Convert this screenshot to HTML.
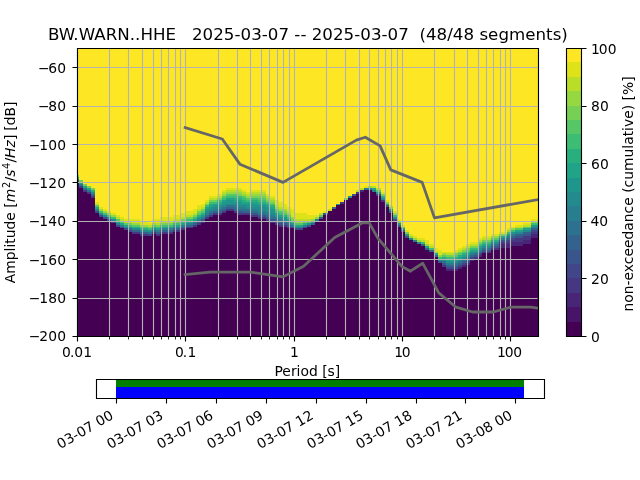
<!DOCTYPE html>
<html lang="en"><head><meta charset="utf-8"><title>PPSD BW.WARN..HHE</title>
<style>html,body{margin:0;padding:0;background:#fff;overflow:hidden}svg{display:block}text{font-family:'DejaVu Sans','Liberation Sans',sans-serif;font-size:13.889px;fill:#000}.t{font-size:16.667px;white-space:pre}.g{stroke:#b3b3b3;stroke-width:1.111;fill:none}.s{stroke:#000;stroke-width:1.111;fill:none}.m{stroke:#000;stroke-width:.833;fill:none}.n{stroke:#666;stroke-width:2.778;fill:none;stroke-linejoin:round;stroke-linecap:square}</style></head><body>
<svg width="640" height="480" viewBox="0 0 640 480">
<rect width="640" height="480" fill="#fff"/>
<g shape-rendering="crispEdges">
<rect x="77" y="48" width="461" height="288" fill="#fde725"/>
<path fill="#440154" d="M77 182h2v154h-2zM79 188h4v148h-4zM364 190h8v146h-8zM83 192h4v144h-4zM360 192h4v144h-4zM372 192h4v144h-4zM87 194h4v142h-4zM356 194h4v142h-4zM352 196h4v140h-4zM376 196h5v140h-5zM91 198h4v138h-4zM348 198h4v138h-4zM344 200h4v136h-4zM381 202h4v134h-4zM340 204h4v132h-4zM336 205h4v131h-4zM385 207h4v129h-4zM332 209h4v127h-4zM226 211h8v125h-8zM328 211h4v125h-4zM95 213h4v123h-4zM222 213h4v123h-4zM234 213h4v123h-4zM389 213h4v123h-4zM213 215h9v121h-9zM238 215h12v121h-12zM323 215h5v121h-5zM99 217h4v119h-4zM209 217h4v119h-4zM250 217h8v119h-8zM103 219h4v117h-4zM205 219h4v117h-4zM258 219h8v117h-8zM319 219h4v117h-4zM107 221h4v115h-4zM266 221h4v115h-4zM315 221h4v115h-4zM393 221h4v115h-4zM111 223h5v113h-5zM201 223h4v113h-4zM270 223h5v113h-5zM197 225h4v111h-4zM275 225h4v111h-4zM311 225h4v111h-4zM116 227h4v109h-4zM193 227h4v109h-4zM279 227h8v109h-8zM307 227h4v109h-4zM397 227h4v109h-4zM120 228h4v108h-4zM185 228h8v108h-8zM287 228h8v108h-8zM303 228h4v108h-4zM124 230h4v106h-4zM181 230h4v106h-4zM295 230h8v106h-8zM128 232h4v104h-4zM173 232h8v104h-8zM401 232h4v104h-4zM132 234h8v102h-8zM152 234h4v102h-4zM160 234h13v102h-13zM140 236h12v100h-12zM156 236h4v100h-4zM405 238h4v98h-4zM531 238h7v98h-7zM409 240h4v96h-4zM413 242h4v94h-4zM417 244h4v92h-4zM523 244h8v92h-8zM421 246h4v90h-4zM511 246h12v90h-12zM499 248h12v88h-12zM425 250h4v86h-4zM491 250h8v86h-8zM429 252h5v84h-5zM482 253h9v83h-9zM434 257h4v79h-4zM478 257h4v79h-4zM474 259h4v77h-4zM470 261h4v75h-4zM438 263h4v73h-4zM466 265h4v71h-4zM442 267h4v69h-4zM462 267h4v69h-4zM458 269h4v67h-4zM446 271h12v65h-12z"/>
<path fill="#482576" d="M360 190h4v2h-4zM531 234h7v4h-7zM523 240h8v4h-8zM511 242h12v4h-12zM499 244h12v4h-12zM478 255h4v2h-4zM470 259h4v2h-4zM466 263h4v2h-4zM462 265h4v2h-4zM458 267h4v2h-4zM446 269h12v2h-12z"/>
<path fill="#453781" d="M77 180h2v2h-2zM79 186h4v2h-4zM83 190h4v2h-4zM87 192h4v2h-4zM356 192h4v2h-4zM376 194h5v2h-5zM91 196h4v2h-4zM381 200h4v2h-4zM340 202h4v2h-4zM226 209h8v2h-8zM222 211h4v2h-4zM234 211h4v2h-4zM213 213h9v2h-9zM238 213h12v2h-12zM209 215h4v2h-4zM250 215h8v2h-8zM205 217h4v2h-4zM258 217h8v2h-8zM266 219h4v2h-4zM201 221h4v2h-4zM270 221h5v2h-5zM197 223h4v2h-4zM275 223h4v2h-4zM193 225h4v2h-4zM279 225h8v2h-8zM185 227h8v1h-8zM287 227h4v1h-4zM181 228h4v2h-4zM173 230h8v2h-8zM132 232h8v2h-8zM152 232h4v2h-4zM160 232h13v2h-13zM531 232h7v2h-7zM140 234h8v2h-8zM156 234h4v2h-4zM523 236h8v4h-8zM515 238h8v4h-8zM511 240h4v2h-4zM499 242h12v2h-12zM491 248h8v2h-8zM482 252h9v1h-9zM474 257h4v2h-4zM442 265h4v2h-4z"/>
<path fill="#404688" d="M95 211h4v2h-4zM99 215h4v2h-4zM103 217h4v2h-4zM107 219h4v2h-4zM393 219h4v2h-4zM111 221h5v2h-5zM116 225h4v2h-4zM120 227h4v1h-4zM291 227h4v1h-4zM303 227h4v1h-4zM124 228h4v2h-4zM295 228h8v2h-8zM128 230h4v2h-4zM531 230h7v2h-7zM148 234h4v2h-4zM511 238h4v2h-4zM507 240h4v2h-4zM478 253h4v2h-4zM470 257h4v2h-4zM466 261h4v2h-4zM462 263h4v2h-4zM458 265h4v2h-4zM446 267h12v2h-12z"/>
<path fill="#39558c" d="M352 194h4v2h-4zM385 205h4v2h-4zM238 211h4v2h-4zM389 211h4v2h-4zM250 213h8v2h-8zM323 213h5v2h-5zM258 215h8v2h-8zM266 217h4v2h-4zM319 217h4v2h-4zM201 219h4v2h-4zM270 219h5v2h-5zM197 221h4v2h-4zM275 221h4v2h-4zM279 223h8v2h-8zM287 225h4v2h-4zM307 225h4v2h-4zM397 225h4v2h-4zM401 230h4v2h-4zM523 234h8v2h-8zM405 236h4v2h-4zM515 236h8v2h-8zM499 240h8v2h-8zM491 246h8v2h-8zM482 250h9v2h-9zM474 255h4v2h-4zM438 261h4v2h-4zM442 263h4v2h-4z"/>
<path fill="#33638d" d="M91 194h4v2h-4zM226 207h8v2h-8zM332 207h4v2h-4zM222 209h4v2h-4zM234 209h4v2h-4zM213 211h9v2h-9zM242 211h8v2h-8zM209 213h4v2h-4zM205 215h4v2h-4zM275 219h4v2h-4zM279 221h4v2h-4zM193 223h4v2h-4zM311 223h4v2h-4zM185 225h8v2h-8zM181 227h4v1h-4zM173 228h8v2h-8zM531 228h7v2h-7zM132 230h8v2h-8zM152 230h4v2h-4zM160 230h13v2h-13zM140 232h8v2h-8zM156 232h4v2h-4zM523 232h8v2h-8zM515 234h8v2h-8zM511 236h4v2h-4zM507 238h4v2h-4zM421 244h4v2h-4zM425 248h4v2h-4zM429 250h5v2h-5zM478 252h4v1h-4zM434 255h4v2h-4zM470 255h4v2h-4zM466 259h4v2h-4zM462 261h4v2h-4zM458 263h4v2h-4zM446 265h12v2h-12z"/>
<path fill="#2d718e" d="M77 179h2v1h-2zM79 184h4v2h-4zM83 188h4v2h-4zM364 188h4v2h-4zM87 190h4v2h-4zM226 205h8v2h-8zM222 207h4v2h-4zM234 207h4v2h-4zM217 209h5v2h-5zM238 209h12v2h-12zM209 211h4v2h-4zM250 211h8v2h-8zM258 213h8v2h-8zM266 215h4v2h-4zM270 217h5v2h-5zM283 221h4v2h-4zM287 223h4v2h-4zM291 225h4v2h-4zM128 228h4v2h-4zM148 232h4v2h-4zM491 244h8v2h-8zM482 248h9v2h-9zM474 253h4v2h-4zM466 257h4v2h-4zM462 259h4v2h-4zM442 261h4v2h-4zM458 261h4v2h-4zM454 263h4v2h-4z"/>
<path fill="#287d8e" d="M368 188h4v2h-4zM372 190h4v2h-4zM234 205h4v2h-4zM238 207h8v2h-8zM95 209h4v2h-4zM213 209h4v2h-4zM250 209h8v2h-8zM258 211h8v2h-8zM205 213h4v2h-4zM266 213h4v2h-4zM270 215h5v2h-5zM201 217h4v2h-4zM275 217h4v2h-4zM197 219h4v2h-4zM279 219h4v2h-4zM315 219h4v2h-4zM193 221h4v2h-4zM116 223h4v2h-4zM185 223h8v2h-8zM120 225h4v2h-4zM181 225h4v2h-4zM303 225h4v2h-4zM124 227h4v1h-4zM173 227h8v1h-8zM295 227h8v1h-8zM531 227h7v1h-7zM160 228h13v2h-13zM156 230h4v2h-4zM511 234h4v2h-4zM507 236h4v2h-4zM409 238h4v2h-4zM499 238h8v2h-8zM413 240h4v2h-4zM417 242h4v2h-4zM478 250h4v2h-4zM470 253h4v2h-4zM446 263h8v2h-8z"/>
<path fill="#238a8d" d="M91 192h4v2h-4zM348 196h4v2h-4zM381 198h4v2h-4zM226 204h12v1h-12zM222 205h4v2h-4zM238 205h8v2h-8zM213 207h9v2h-9zM246 207h12v2h-12zM258 207h8v4h-8zM209 209h4v2h-4zM205 211h4v2h-4zM266 211h4v2h-4zM99 213h4v2h-4zM270 213h5v2h-5zM103 215h4v2h-4zM107 217h4v2h-4zM393 217h4v2h-4zM111 219h5v2h-5zM283 219h4v2h-4zM287 221h4v2h-4zM132 228h8v2h-8zM152 228h4v2h-4zM140 230h8v2h-8zM523 230h8v2h-8zM515 232h8v2h-8zM491 242h8v2h-8zM482 246h9v2h-9zM474 252h4v1h-4zM466 255h4v2h-4zM462 257h4v2h-4zM438 259h8v2h-8zM458 259h4v2h-4zM454 261h4v2h-4z"/>
<path fill="#1f968b" d="M376 192h5v2h-5zM226 200h8v4h-8zM234 202h4v2h-4zM222 202h4v3h-4zM238 202h4v3h-4zM242 204h4v1h-4zM336 204h4v1h-4zM385 204h4v1h-4zM246 204h12v3h-12zM213 205h9v2h-9zM258 205h8v2h-8zM209 207h4v2h-4zM266 207h4v4h-4zM205 209h4v2h-4zM389 209h4v2h-4zM270 209h5v4h-5zM201 215h4v2h-4zM275 215h4v2h-4zM197 217h4v2h-4zM279 217h8v2h-8zM291 223h4v2h-4zM307 223h4v2h-4zM397 223h4v2h-4zM531 225h7v2h-7zM128 227h4v1h-4zM401 228h4v2h-4zM148 230h4v2h-4zM511 232h4v2h-4zM405 234h4v2h-4zM507 234h4v2h-4zM478 248h4v2h-4zM470 252h4v1h-4zM446 261h8v2h-8z"/>
<path fill="#20a386" d="M77 177h2v2h-2zM79 182h4v2h-4zM83 186h4v2h-4zM87 188h4v2h-4zM372 188h4v2h-4zM226 198h8v2h-8zM222 200h4v2h-4zM234 200h8v2h-8zM242 202h16v2h-16zM213 204h9v1h-9zM258 204h8v1h-8zM209 205h4v2h-4zM266 205h4v2h-4zM95 207h4v2h-4zM205 207h4v2h-4zM270 207h5v2h-5zM275 213h4v2h-4zM279 215h4v2h-4zM193 219h4v2h-4zM287 219h4v2h-4zM116 221h4v2h-4zM185 221h8v2h-8zM311 221h4v2h-4zM120 223h4v2h-4zM181 223h4v2h-4zM124 225h4v2h-4zM173 225h8v2h-8zM295 225h8v2h-8zM160 227h13v1h-13zM156 228h4v2h-4zM523 228h8v2h-8zM515 230h8v2h-8zM499 236h8v2h-8zM482 244h9v2h-9zM425 246h4v2h-4zM478 246h4v2h-4zM470 250h8v2h-8zM434 253h4v2h-4zM466 253h4v2h-4zM462 255h4v2h-4zM458 257h4v2h-4zM446 259h12v2h-12z"/>
<path fill="#29af7f" d="M91 190h4v2h-4zM381 196h4v2h-4zM234 198h8v2h-8zM242 200h4v2h-4zM250 200h8v2h-8zM217 202h5v2h-5zM258 202h8v2h-8zM209 204h4v1h-4zM266 204h4v1h-4zM270 205h5v2h-5zM201 213h4v2h-4zM197 215h4v2h-4zM283 215h4v2h-4zM303 223h4v2h-4zM132 227h8v1h-8zM152 227h4v1h-4zM140 228h8v2h-8zM491 240h8v2h-8zM466 252h4v1h-4zM462 253h4v2h-4zM458 255h4v2h-4zM442 257h4v2h-4zM454 257h4v2h-4z"/>
<path fill="#3dbc74" d="M226 196h16v2h-16zM222 198h4v2h-4zM242 198h4v2h-4zM250 198h8v2h-8zM217 200h5v2h-5zM246 200h4v2h-4zM258 200h8v2h-8zM209 202h8v2h-8zM266 202h4v2h-4zM270 204h5v1h-5zM205 205h4v2h-4zM99 211h4v2h-4zM275 211h4v2h-4zM103 213h4v2h-4zM279 213h4v2h-4zM107 215h4v2h-4zM393 215h4v2h-4zM111 217h5v2h-5zM193 217h4v2h-4zM287 217h4v2h-4zM185 219h8v2h-8zM181 221h4v2h-4zM291 221h4v2h-4zM173 223h8v2h-8zM531 223h7v2h-7zM128 225h4v2h-4zM160 225h13v2h-13zM156 227h4v1h-4zM148 228h4v2h-4zM511 230h4v2h-4zM507 232h4v2h-4zM421 242h4v2h-4zM482 242h9v2h-9zM478 244h4v2h-4zM429 248h5v2h-5zM470 248h8v2h-8zM438 257h4v2h-4zM446 257h8v2h-8z"/>
<path fill="#56c667" d="M376 190h5v2h-5zM226 194h12v2h-12zM222 196h4v2h-4zM242 196h4v2h-4zM246 198h4v2h-4zM258 198h8v2h-8zM95 205h4v2h-4zM275 209h4v2h-4zM201 211h4v2h-4zM279 211h4v2h-4zM197 213h4v2h-4zM283 213h4v2h-4zM287 215h4v2h-4zM319 215h4v2h-4zM116 219h4v2h-4zM120 221h4v2h-4zM307 221h4v2h-4zM124 223h4v2h-4zM295 223h8v2h-8zM132 225h8v2h-8zM152 225h4v2h-4zM140 227h8v1h-8zM523 227h8v1h-8zM515 228h8v2h-8zM491 238h8v2h-8zM466 250h4v2h-4zM462 252h4v1h-4zM458 253h4v2h-4zM442 255h4v2h-4zM454 255h4v2h-4z"/>
<path fill="#75d054" d="M77 175h2v2h-2zM79 180h4v2h-4zM83 184h4v2h-4zM87 186h4v2h-4zM91 188h4v2h-4zM238 194h4v2h-4zM381 194h4v2h-4zM250 196h16v2h-16zM217 198h5v2h-5zM344 198h4v2h-4zM209 200h8v2h-8zM266 200h4v2h-4zM270 202h5v2h-5zM385 202h4v2h-4zM205 204h4v1h-4zM389 207h4v2h-4zM201 209h4v2h-4zM197 211h4v2h-4zM283 211h4v2h-4zM193 215h4v2h-4zM185 217h8v2h-8zM181 219h4v2h-4zM291 219h4v2h-4zM173 221h8v2h-8zM303 221h4v2h-4zM397 221h4v2h-4zM128 223h4v2h-4zM160 223h13v2h-13zM156 225h4v2h-4zM148 227h4v1h-4zM401 227h4v1h-4zM405 232h4v2h-4zM499 234h8v2h-8zM482 240h9v2h-9zM478 242h4v2h-4zM470 246h8v2h-8zM466 248h4v2h-4zM462 250h4v2h-4zM458 252h4v1h-4zM454 253h4v2h-4zM446 255h8v2h-8z"/>
<path fill="#95d840" d="M368 186h4v2h-4zM226 192h16v2h-16zM222 194h4v2h-4zM242 194h4v2h-4zM250 194h16v2h-16zM246 196h4v2h-4zM266 198h4v2h-4zM270 200h5v2h-5zM275 207h4v2h-4zM99 209h4v2h-4zM279 209h8v2h-8zM103 211h4v2h-4zM107 213h4v2h-4zM287 213h4v2h-4zM393 213h4v2h-4zM111 215h5v2h-5zM291 217h4v2h-4zM315 217h4v2h-4zM311 219h4v2h-4zM295 221h8v2h-8zM531 221h7v2h-7zM132 223h8v2h-8zM152 223h4v2h-4zM140 225h8v2h-8zM511 228h4v2h-4zM507 230h4v2h-4zM409 236h4v2h-4zM491 236h8v2h-8zM413 238h4v2h-4zM417 240h4v2h-4zM425 244h4v2h-4zM434 252h4v1h-4zM442 253h4v2h-4zM438 255h4v2h-4z"/>
<path fill="#bade28" d="M372 186h4v2h-4zM360 188h4v2h-4zM376 188h5v2h-5zM226 190h16v2h-16zM356 190h4v2h-4zM222 192h4v2h-4zM242 192h4v2h-4zM250 192h16v2h-16zM246 194h4v2h-4zM217 196h5v2h-5zM266 196h4v2h-4zM209 198h8v2h-8zM270 198h5v2h-5zM205 202h4v2h-4zM95 204h4v1h-4zM275 205h4v2h-4zM201 207h4v2h-4zM279 207h4v2h-4zM197 209h4v2h-4zM328 209h4v2h-4zM287 211h4v2h-4zM193 213h4v2h-4zM319 213h4v2h-4zM185 215h8v2h-8zM116 217h4v2h-4zM181 217h4v2h-4zM120 219h4v2h-4zM173 219h8v2h-8zM295 219h16v2h-16zM124 221h8v2h-8zM160 221h13v2h-13zM156 223h4v2h-4zM148 225h4v2h-4zM523 225h8v2h-8zM515 227h8v1h-8zM482 238h9v2h-9zM421 240h4v2h-4zM478 240h4v2h-4zM470 244h8v2h-8zM429 246h5v2h-5zM466 246h4v2h-4zM462 248h4v2h-4zM458 250h4v2h-4zM454 252h4v1h-4zM446 253h8v2h-8z"/>
<path fill="#dde318" d="M364 186h4v2h-4zM226 188h16v2h-16zM222 190h4v2h-4zM242 190h4v2h-4zM250 190h16v2h-16zM246 192h4v2h-4zM381 192h4v2h-4zM217 194h5v2h-5zM266 194h4v2h-4zM209 196h8v2h-8zM270 196h5v2h-5zM205 200h4v2h-4zM385 200h4v2h-4zM275 200h4v5h-4zM95 202h4v2h-4zM279 202h4v5h-4zM201 204h4v3h-4zM283 204h4v5h-4zM389 205h4v2h-4zM197 205h4v4h-4zM99 207h4v2h-4zM287 207h4v4h-4zM103 209h4v2h-4zM193 209h4v4h-4zM291 209h4v8h-4zM107 211h4v2h-4zM323 211h5v2h-5zM393 211h4v2h-4zM185 211h8v4h-8zM111 213h5v2h-5zM181 213h4v4h-4zM295 213h12v6h-12zM116 215h4v2h-4zM315 215h4v2h-4zM173 215h8v4h-8zM307 215h8v4h-8zM120 217h4v2h-4zM160 217h13v4h-13zM124 219h8v2h-8zM397 219h4v2h-4zM531 219h7v2h-7zM132 219h8v4h-8zM152 219h8v4h-8zM140 221h8v4h-8zM148 223h4v2h-4zM523 223h8v2h-8zM401 225h4v2h-4zM515 225h8v2h-8zM511 227h4v1h-4zM507 228h4v2h-4zM405 230h4v2h-4zM499 232h8v2h-8zM409 234h4v2h-4zM491 234h8v2h-8zM413 236h4v2h-4zM482 236h9v2h-9zM417 238h8v2h-8zM478 238h4v2h-4zM425 240h4v4h-4zM470 242h8v2h-8zM429 244h5v2h-5zM466 244h4v2h-4zM462 246h4v2h-4zM458 248h4v2h-4zM434 248h4v4h-4zM454 250h4v2h-4zM438 250h4v5h-4zM442 252h12v1h-12z"/>
</g>
<clipPath id="c"><rect x="77" y="48" width="461" height="288"/></clipPath>
<path class="g" d="M77.5 48.0V336.0M109.5 48.0V336.0M128.5 48.0V336.0M142.5 48.0V336.0M153.5 48.0V336.0M161.5 48.0V336.0M168.5 48.0V336.0M175.5 48.0V336.0M180.5 48.0V336.0M185.5 48.0V336.0M218.5 48.0V336.0M237.5 48.0V336.0M250.5 48.0V336.0M261.5 48.0V336.0M269.5 48.0V336.0M277.5 48.0V336.0M283.5 48.0V336.0M289.5 48.0V336.0M294.5 48.0V336.0M326.5 48.0V336.0M345.5 48.0V336.0M359.5 48.0V336.0M369.5 48.0V336.0M378.5 48.0V336.0M385.5 48.0V336.0M391.5 48.0V336.0M397.5 48.0V336.0M402.5 48.0V336.0M434.5 48.0V336.0M454.5 48.0V336.0M467.5 48.0V336.0M478.5 48.0V336.0M486.5 48.0V336.0M493.5 48.0V336.0M500.5 48.0V336.0M505.5 48.0V336.0M510.5 48.0V336.0M76.8 336.5H537.6M76.8 298.5H537.6M76.8 259.5H537.6M76.8 221.5H537.6M76.8 182.5H537.6M76.8 144.5H537.6M76.8 106.5H537.6M76.8 67.5H537.6"/>
<polyline class="n" clip-path="url(#c)" points="185.15,127.68 222.25,139.01 222.25,139.02 239.88,164.17 239.88,164.16 283,182.39 283,182.4 356.32,140.16 365.31,137.27 365.31,137.28 380.11,145.92 390.76,169.92 390.76,169.91 422.17,182.39 422.17,182.4 434.47,217.92 434.47,217.91 569.79,193.91 569.79,193.93"/>
<polyline class="n" clip-path="url(#c)" points="185.15,274.56 210.12,272.06 250.38,272.06 283,276.86 283,276.87 303.62,266.3 334.7,237.4 362.14,222.9 362.14,222.91 369.24,222.91 369.24,222.9 377.81,238.07 377.81,238.08 401.85,266.4 410.43,271.2 410.43,271.19 422.78,263.28 422.78,263.29 438.74,292.8 438.74,292.81 455.99,307.21 455.99,307.19 472.63,311.99 472.63,312 493.42,312 510.67,307.2 530.52,307.2 530.52,307.18 566.1,311.97 566.1,311.98 594.52,305.99 594.52,306.01"/>
<path class="s" d="M77.5 336.5V341.5M185.5 336.5V341.5M294.5 336.5V341.5M402.5 336.5V341.5M510.5 336.5V341.5M72.5 336.5H77.5M72.5 298.5H77.5M72.5 259.5H77.5M72.5 221.5H77.5M72.5 182.5H77.5M72.5 144.5H77.5M72.5 106.5H77.5M72.5 67.5H77.5"/>
<path class="m" d="M109.5 336.5V339.5M128.5 336.5V339.5M142.5 336.5V339.5M153.5 336.5V339.5M161.5 336.5V339.5M168.5 336.5V339.5M175.5 336.5V339.5M180.5 336.5V339.5M218.5 336.5V339.5M237.5 336.5V339.5M250.5 336.5V339.5M261.5 336.5V339.5M269.5 336.5V339.5M277.5 336.5V339.5M283.5 336.5V339.5M289.5 336.5V339.5M326.5 336.5V339.5M345.5 336.5V339.5M359.5 336.5V339.5M369.5 336.5V339.5M378.5 336.5V339.5M385.5 336.5V339.5M391.5 336.5V339.5M397.5 336.5V339.5M434.5 336.5V339.5M454.5 336.5V339.5M467.5 336.5V339.5M478.5 336.5V339.5M486.5 336.5V339.5M493.5 336.5V339.5M500.5 336.5V339.5M505.5 336.5V339.5"/>
<path class="s" stroke-linecap="square" d="M77.5 48.5H538.5V336.5H77.5z"/>
<text x="62.09 69.93 74.34 83.18" y="357.35">0.01</text>
<text x="175.1 182.84 187.45" y="357.3">0.1</text>
<text x="294.53" y="357.27" text-anchor="middle">1</text>
<text x="394.13 401.87" y="357.33">10</text>
<text x="496.9 504.7 513.3" y="357.35">100</text>
<text x="307.38" y="376.33" text-anchor="middle">Period [s]</text>
<text x="28.7 39.3 48.2 57.2" y="341.32">−200</text>
<text x="28.7 39.3 48.2 57.2" y="302.93">−180</text>
<text x="28.7 39.3 48.2 57.2" y="265.04">−160</text>
<text x="28.7 39.3 48.2 57.2" y="226.08">−140</text>
<text x="28.7 39.3 48.2 57.2" y="187.68">−120</text>
<text x="28.7 39.3 48.2 57.2" y="150.33">−100</text>
<text x="37.9 48.3 57.3" y="110.95">−80</text>
<text x="37.9 48.3 57.3" y="73.08">−60</text>
<text class="t" x="47.93" y="39.67" textLength="519.9" xml:space="preserve">BW.WARN..HHE   2025-03-07 -- 2025-03-07  (48/48 segments)</text>
<g transform="translate(16.48 284.29) rotate(-90)"><text y="-1.36" xml:space="preserve"><tspan x="1">Amplitude [</tspan><tspan x="82.01" font-style="oblique">m</tspan><tspan x="96.18" y="-6.67" font-size="9.722">2</tspan><tspan x="102.75" y="-1.36">/</tspan><tspan x="107.43" font-style="oblique">s</tspan><tspan x="115.31" y="-6.67" font-size="9.722">4</tspan><tspan x="121.87" y="-1.36">/</tspan><tspan x="126.38" font-style="oblique">Hz</tspan><tspan x="144.21">]</tspan><tspan x="153.65">[dB]</tspan></text></g>
<g shape-rendering="crispEdges">
<rect x="566" y="322" width="15" height="14" fill="#440154"/>
<rect x="566" y="307" width="15" height="15" fill="#481467"/>
<rect x="566" y="293" width="15" height="14" fill="#482576"/>
<rect x="566" y="278" width="15" height="15" fill="#453781"/>
<rect x="566" y="264" width="15" height="14" fill="#404688"/>
<rect x="566" y="250" width="15" height="14" fill="#39558c"/>
<rect x="566" y="235" width="15" height="15" fill="#33638d"/>
<rect x="566" y="221" width="15" height="14" fill="#2d718e"/>
<rect x="566" y="206" width="15" height="15" fill="#287d8e"/>
<rect x="566" y="192" width="15" height="14" fill="#238a8d"/>
<rect x="566" y="178" width="15" height="14" fill="#1f968b"/>
<rect x="566" y="163" width="15" height="15" fill="#20a386"/>
<rect x="566" y="149" width="15" height="14" fill="#29af7f"/>
<rect x="566" y="134" width="15" height="15" fill="#3dbc74"/>
<rect x="566" y="120" width="15" height="14" fill="#56c667"/>
<rect x="566" y="106" width="15" height="14" fill="#75d054"/>
<rect x="566" y="91" width="15" height="15" fill="#95d840"/>
<rect x="566" y="77" width="15" height="14" fill="#bade28"/>
<rect x="566" y="62" width="15" height="15" fill="#dde318"/>
<rect x="566" y="48" width="15" height="14" fill="#fde725"/>
</g>
<path class="s" stroke-linecap="square" d="M566.5 48.5H581.5V336.5H566.5z"/>
<path class="s" d="M581.5 336.5H586.5M581.5 278.5H586.5M581.5 221.5H586.5M581.5 163.5H586.5M581.5 106.5H586.5M581.5 48.5H586.5"/>
<text x="590.98" y="342.36">0</text>
<text x="591.11" y="283.7">20</text>
<text x="590.52" y="226.08">40</text>
<text x="591.08" y="169.12">60</text>
<text x="591.09" y="110.94">80</text>
<text x="590.9 598.7 607.8" y="54.33">100</text>
<text transform="translate(633.14 194) rotate(-90)" text-anchor="middle">non-exceedance (cumulative) [%]</text>
<g shape-rendering="crispEdges">
<rect x="116" y="380" width="408" height="7" fill="#008000"/>
<rect x="116" y="387" width="408" height="11" fill="#0000ff"/>
</g>
<path class="s" stroke-linecap="square" d="M96.5 379.5H544.5V398.5H96.5z"/>
<path class="s" d="M116.5 398.5V403.5M166.5 398.5V403.5M216.5 398.5V403.5M266.5 398.5V403.5M316.5 398.5V403.5M366.5 398.5V403.5M416.5 398.5V403.5M465.5 398.5V403.5M515.5 398.5V403.5"/>
<text transform="translate(60.31 449.21) rotate(-30)">03-07 00</text>
<text transform="translate(110.16 449.32) rotate(-30)">03-07 03</text>
<text transform="translate(160.19 449.31) rotate(-30)">03-07 06</text>
<text transform="translate(210.23 449.29) rotate(-30)">03-07 09</text>
<text transform="translate(260.28 449.31) rotate(-30)">03-07 12</text>
<text transform="translate(310.26 449.26) rotate(-30)">03-07 15</text>
<text transform="translate(359.15 449.34) rotate(-30)">03-07 18</text>
<text transform="translate(409.16 449.32) rotate(-30)">03-07 21</text>
<text transform="translate(459.33 449.19) rotate(-30)">03-08 00</text>
</svg></body></html>
